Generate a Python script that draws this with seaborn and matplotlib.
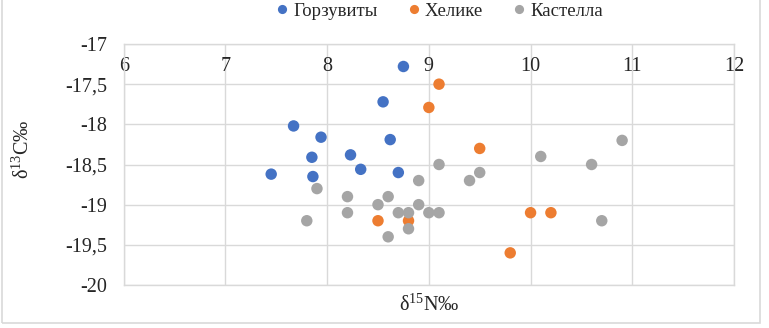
import pandas as pd
import numpy as np
import seaborn as sns
import matplotlib.pyplot as plt
from matplotlib.patches import Rectangle

# data
gorz_n = [8.75, 8.55, 7.67, 7.94, 8.62, 7.85, 8.23, 7.45, 7.86, 8.33, 8.70]
gorz_c = [-17.28, -17.72, -18.02, -18.16, -18.19, -18.41, -18.38, -18.62, -18.65, -18.56, -18.60]

helike_n = [9.10, 9.00, 9.50, 8.50, 8.80, 10.00, 10.20, 9.80]
helike_c = [-17.50, -17.79, -18.30, -19.20, -19.20, -19.10, -19.10, -19.60]

kast_n = [10.9, 10.1, 10.6, 9.1, 9.5, 9.4, 8.9, 10.7, 7.9, 8.2, 8.6, 8.5, 8.9,
          8.2, 8.7, 8.8, 9.0, 9.1, 7.8, 8.8, 8.6]
kast_c = [-18.2, -18.4, -18.5, -18.5, -18.6, -18.7, -18.7, -19.2, -18.8, -18.9, -18.9,
          -19.0, -19.0, -19.1, -19.1, -19.1, -19.1, -19.1, -19.2, -19.3, -19.4]

groups = ["Горзувиты", "Хелике", "Кастелла"]
colors = ["#4472C4", "#ED7D31", "#A5A5A5"]

xticks = [6, 7, 8, 9, 10, 11, 12]
yticks = [-20, -19.5, -19, -18.5, -18, -17.5, -17]

df = pd.DataFrame({
    "n": gorz_n + helike_n + kast_n,
    "c": gorz_c + helike_c + kast_c,
    "site": [groups[0]] * len(gorz_n) + [groups[1]] * len(helike_n) + [groups[2]] * len(kast_n),
})

sns.set_style("white")
plt.rcParams["font.family"] = ["Liberation Serif", "DejaVu Serif"]
plt.rcParams["mathtext.fontset"] = "custom"
plt.rcParams["mathtext.rm"] = "Liberation Serif"

fig = plt.figure(figsize=(7.69, 3.28), dpi=100)
ax = fig.add_axes([123.7 / 769, 43 / 328, 610.3 / 769, 241 / 328])

sns.scatterplot(data=df, x="n", y="c", hue="site", hue_order=groups, palette=colors,
                s=68, linewidth=0, alpha=1, ax=ax)

ax.set_xlim(6, 12)
ax.set_ylim(-20, -17)
ax.set_xticks(xticks)
ax.set_yticks(yticks)
ax.set_xticklabels([str(t) for t in xticks])
ax.set_yticklabels([("%g" % t).replace(".", ",") for t in yticks])
ax.grid(True, color="#D9D9D9", linewidth=1)
ax.set_axisbelow(True)
for sp in ax.spines.values():
    sp.set_color("#D9D9D9")
    sp.set_linewidth(1)

ax.tick_params(axis="x", length=0, labelsize=14.5, top=False, bottom=False,
               labeltop=True, labelbottom=False, pad=-23)
ax.tick_params(axis="y", length=0, labelsize=14.5, pad=12)

ax.set_xlabel(r"δ$^{\mathrm{15}}$N‰", fontsize=14.5)
ax.set_ylabel(r"δ$^{\mathrm{13}}$C‰", fontsize=14.5)
ax.xaxis.set_label_coords(0.5, -0.035)
ax.yaxis.set_label_coords(-0.148, 0.565)

sns.move_legend(ax, "center", bbox_to_anchor=(0.518, 1.135), ncol=3, frameon=False,
                title=None, fontsize=13.5, handlelength=0.6, handletextpad=0.3,
                columnspacing=1.6, markerscale=0.8)

fig.patches.append(Rectangle((2 / 769, 5 / 328), 758 / 769, 330 / 328, transform=fig.transFigure,
                             fill=False, edgecolor="#D9D9D9", linewidth=1.2))

plt.savefig("out.png", dpi=100)
